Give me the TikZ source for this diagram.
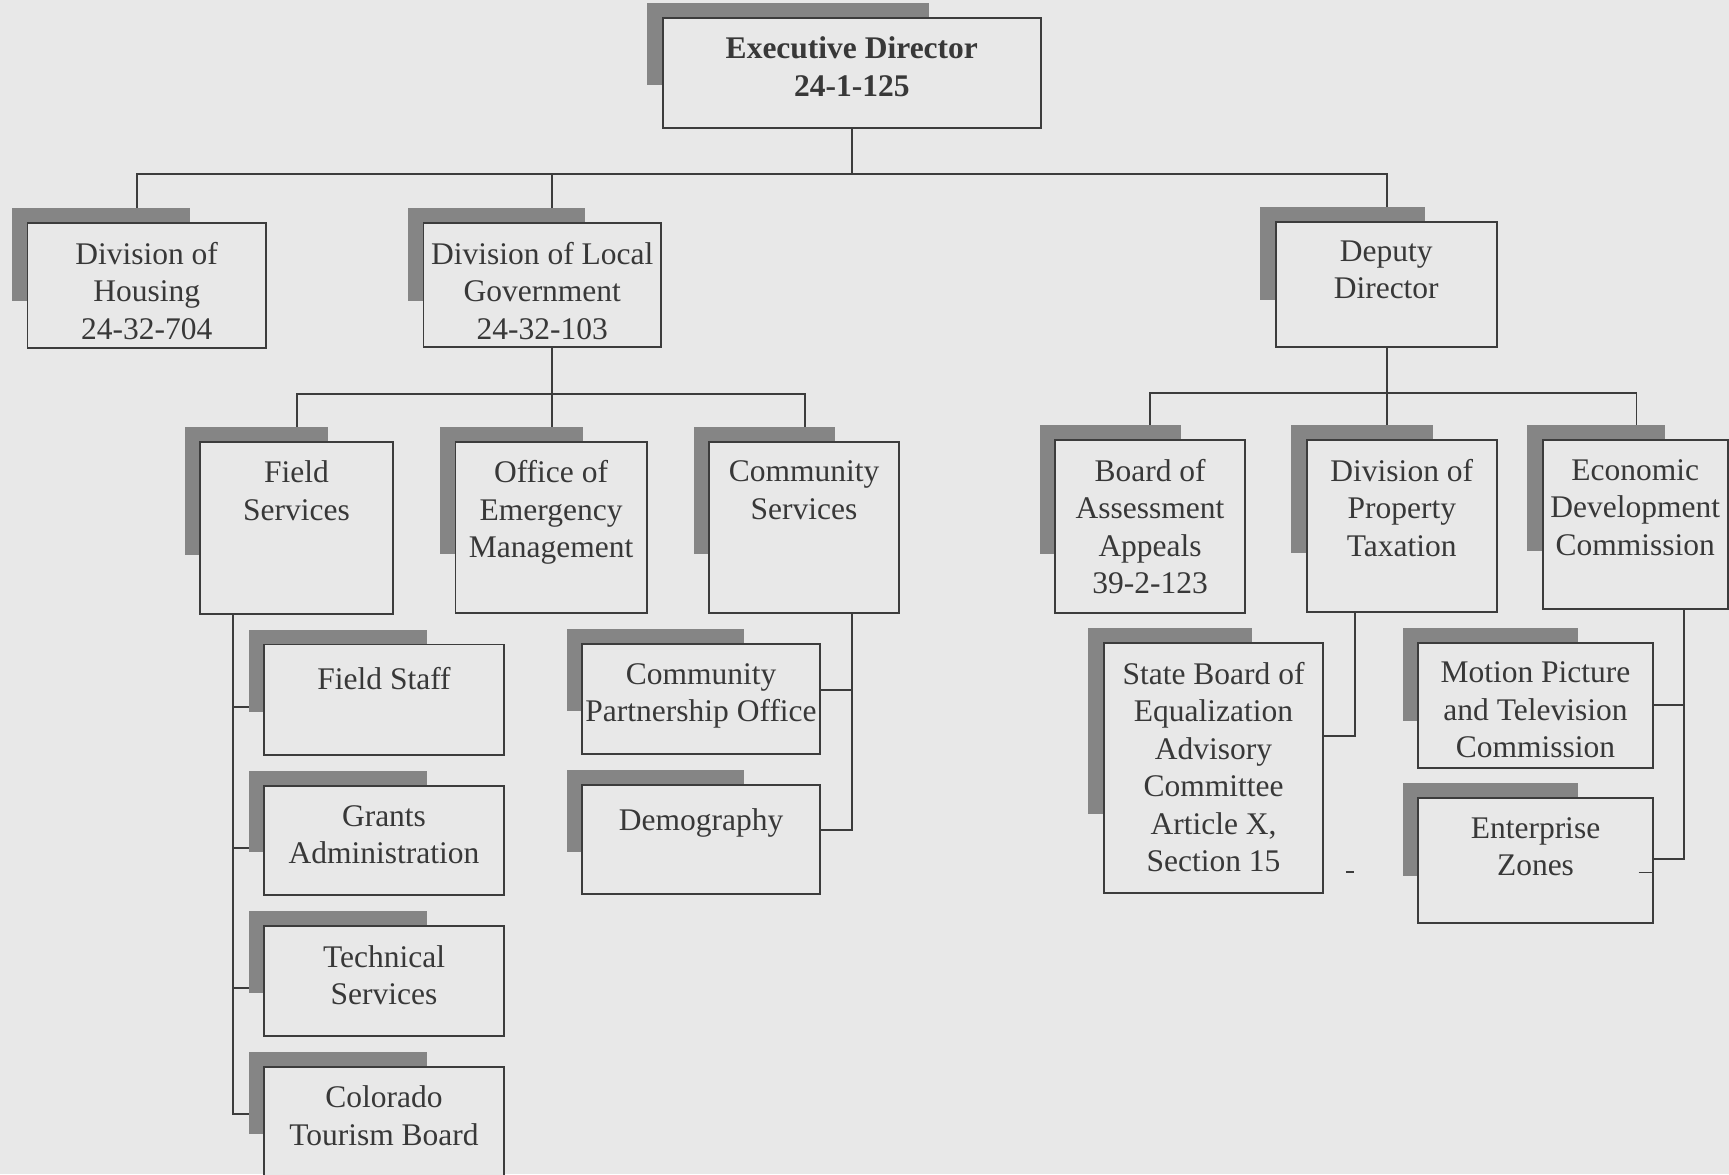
\documentclass[tikz,border=0pt]{standalone}
\usepackage{fontspec}
\setmainfont{Liberation Serif}
\definecolor{bgc}{HTML}{E8E8E8}
\definecolor{linec}{HTML}{3C3C3C}
\definecolor{shc}{HTML}{858585}
\definecolor{txc}{HTML}{383838}
\pgfdeclarelayer{bgzero}
\pgfdeclarelayer{conlayer}
\pgfsetlayers{bgzero,conlayer,main}
\tikzset{
  obox/.style={draw=linec, fill=bgc, line width=1.8pt, inner sep=0pt, outer sep=0pt},
  otext/.style={text=txc, align=center, inner sep=0pt,
    font=\fontsize{31.5}{37.5}\selectfont, execute at begin node=\strut},
  boldtext/.style={font=\fontsize{31.5}{37.5}\selectfont\bfseries},
  conn/.style={draw=linec, line width=1.8pt},
  shadowbox/.style={fill=shc}
}
% [text style]{name}{L}{T}{R}{B}{text}
\newcommand\orgbox[7][]{%
  \pgfmathsetmacro\obw{#5-#3}%
  \pgfmathsetmacro\obh{#6-#4}%
  \pgfmathsetmacro\osl{#3-14}%
  \pgfmathsetmacro\ost{#4-13.5}%
  \pgfmathsetmacro\osr{#3-14+0.745*\obw}%
  \pgfmathsetmacro\osb{#4-13.5+0.745*\obh}%
  \pgfmathsetmacro\ocx{(#3+#5)/2}%
  \pgfmathsetmacro\ocy{(#4+#6)/2}%
  \pgfmathsetmacro\oty{#4+17.2}%
  \fill[shadowbox] (\osl,\ost) rectangle (\osr,\osb);
  \node[obox, minimum width=\obw*1.1027pt, minimum height=\obh*1.1027pt] (#2) at (\ocx,\ocy) {};
  \node[otext, anchor=north, #1] (#2-t) at (\ocx,\oty) {#7};
}
\begin{document}
\begin{tikzpicture}[x=1.1027pt, y=-1.1027pt]
\begin{pgfonlayer}{bgzero}
  \fill[bgc] (0,0) rectangle (1568,1065);
\end{pgfonlayer}
\useasboundingbox (0,0) rectangle (1568,1065);

% level 0
\orgbox[boldtext]{exec}{601}{16}{944}{116}{Executive Director\\24-1-125}
% level 1
\orgbox{hou}{25}{202}{241}{315.6}{Division of\\Housing\\24-32-704}
\orgbox{loc}{384}{202}{599.5}{315}{Division of Local\\Government\\24-32-103}
\orgbox{dep}{1157}{201}{1357.3}{314.5}{Deputy\\Director}
% level 2 (local government)
\orgbox{fs}{181.4}{400.8}{356.4}{556.8}{Field\\Services}
\orgbox{oem}{413}{400.5}{586.5}{556}{Office of\\Emergency\\Management}
\orgbox{cs}{643}{400.5}{815.3}{556}{Community\\Services}
% level 2 (deputy)
\orgbox{boa}{957}{399}{1129}{556}{Board of\\Assessment\\Appeals\\39-2-123}
\orgbox{pt}{1185}{399}{1357.5}{555}{Division of\\Property\\Taxation}
\orgbox{eco}{1399}{399}{1567}{552}{Economic\\Development\\Commission}
% level 3
\orgbox{fst}{239.5}{584.5}{457}{685}{Field Staff}
\orgbox{gra}{239.5}{712.8}{457}{811.6}{Grants\\Administration}
\orgbox{tec}{239.5}{840}{457}{939.5}{Technical\\Services}
\orgbox{cot}{239.5}{967.6}{457}{1067}{Colorado\\Tourism Board}
\orgbox{cpo}{528}{584}{743.6}{684}{Community\\Partnership Office}
\orgbox{dem}{528}{712}{743.6}{811}{Demography}
\orgbox{sbe}{1001}{583}{1200}{810}{State Board of\\Equalization\\Advisory\\Committee\\Article X,\\Section 15}
\orgbox{mp}{1286}{583}{1499}{696.6}{Motion Picture\\and Television\\Commission}
\orgbox{ez}{1286}{724}{1499}{837}{Enterprise\\Zones}

% junction coordinates
\coordinate (j0) at (772.5,157.8);
\coordinate (j0L) at (124.3,157.8);
\coordinate (j0M) at (500.3,157.8);
\coordinate (j0R) at (1257.5,157.8);
\coordinate (j1) at (500.3,357);
\coordinate (j1L) at (269,357);
\coordinate (j1R) at (730,357);
\coordinate (j2) at (1257.5,356.5);
\coordinate (j2L) at (1043,356.5);
\coordinate (j2R) at (1484,356.5);
\coordinate (fsx) at (211.4,556.8);
\coordinate (fsb1) at (211.4,641);
\coordinate (fsb2) at (211.4,769);
\coordinate (fsb3) at (211.4,896);
\coordinate (fsb4) at (211.4,1010);
\coordinate (csx) at (772.4,556);
\coordinate (csb1) at (772.4,626);
\coordinate (csb2) at (772.4,753);
\coordinate (ptx) at (1228.5,555);
\coordinate (ptb1) at (1228.5,667.5);
\coordinate (ecx) at (1527.5,552);
\coordinate (ecb1) at (1527.5,639);
\coordinate (ecb2) at (1527.5,779);
\coordinate (mk1a) at (1220.5,790.8);
\coordinate (mk1b) at (1228,790.8);
\coordinate (mk2a) at (1486,791);
\coordinate (mk2b) at (1498,791);

\begin{pgfonlayer}{conlayer}
  \draw[conn] (exec.south) -- (j0);
  \draw[conn] (j0L |- hou.north) -- (j0L) -- (j0R) -- (j0R |- dep.north);
  \draw[conn] (j0M) -- (j0M |- loc.north);
  % local government
  \draw[conn] (j1 |- loc.south) -- (j1);
  \draw[conn] (j1L |- fs.north) -- (j1L) -- (j1R) -- (j1R |- cs.north);
  \draw[conn] (j1) -- (j1 |- oem.north);
  % deputy
  \draw[conn] (j2 |- dep.south) -- (j2);
  \draw[conn] (j2L |- boa.north) -- (j2L) -- (j2R) -- (j2R |- eco.north);
  \draw[conn] (j2) -- (j2 |- pt.north);
  % field services
  \draw[conn] (fsx) -- (fsb4) -- (fsb4 -| cot.west);
  \draw[conn] (fsb1) -- (fsb1 -| fst.west);
  \draw[conn] (fsb2) -- (fsb2 -| gra.west);
  \draw[conn] (fsb3) -- (fsb3 -| tec.west);
  % community services
  \draw[conn] (csx) -- (csb2) -- (csb2 -| dem.east);
  \draw[conn] (csb1) -- (csb1 -| cpo.east);
  % property taxation
  \draw[conn] (ptx) -- (ptb1) -- (ptb1 -| sbe.east);
  % economic development
  \draw[conn] (ecx) -- (ecb2) -- (ecb2 -| ez.east);
  \draw[conn] (ecb1) -- (ecb1 -| mp.east);
  % small mark
  \draw[conn, line width=1.6pt] (mk1a) -- (mk1b);
\end{pgfonlayer}
\draw[conn, line width=1.2pt] (mk2a) -- (mk2b);
\end{tikzpicture}
\end{document}
